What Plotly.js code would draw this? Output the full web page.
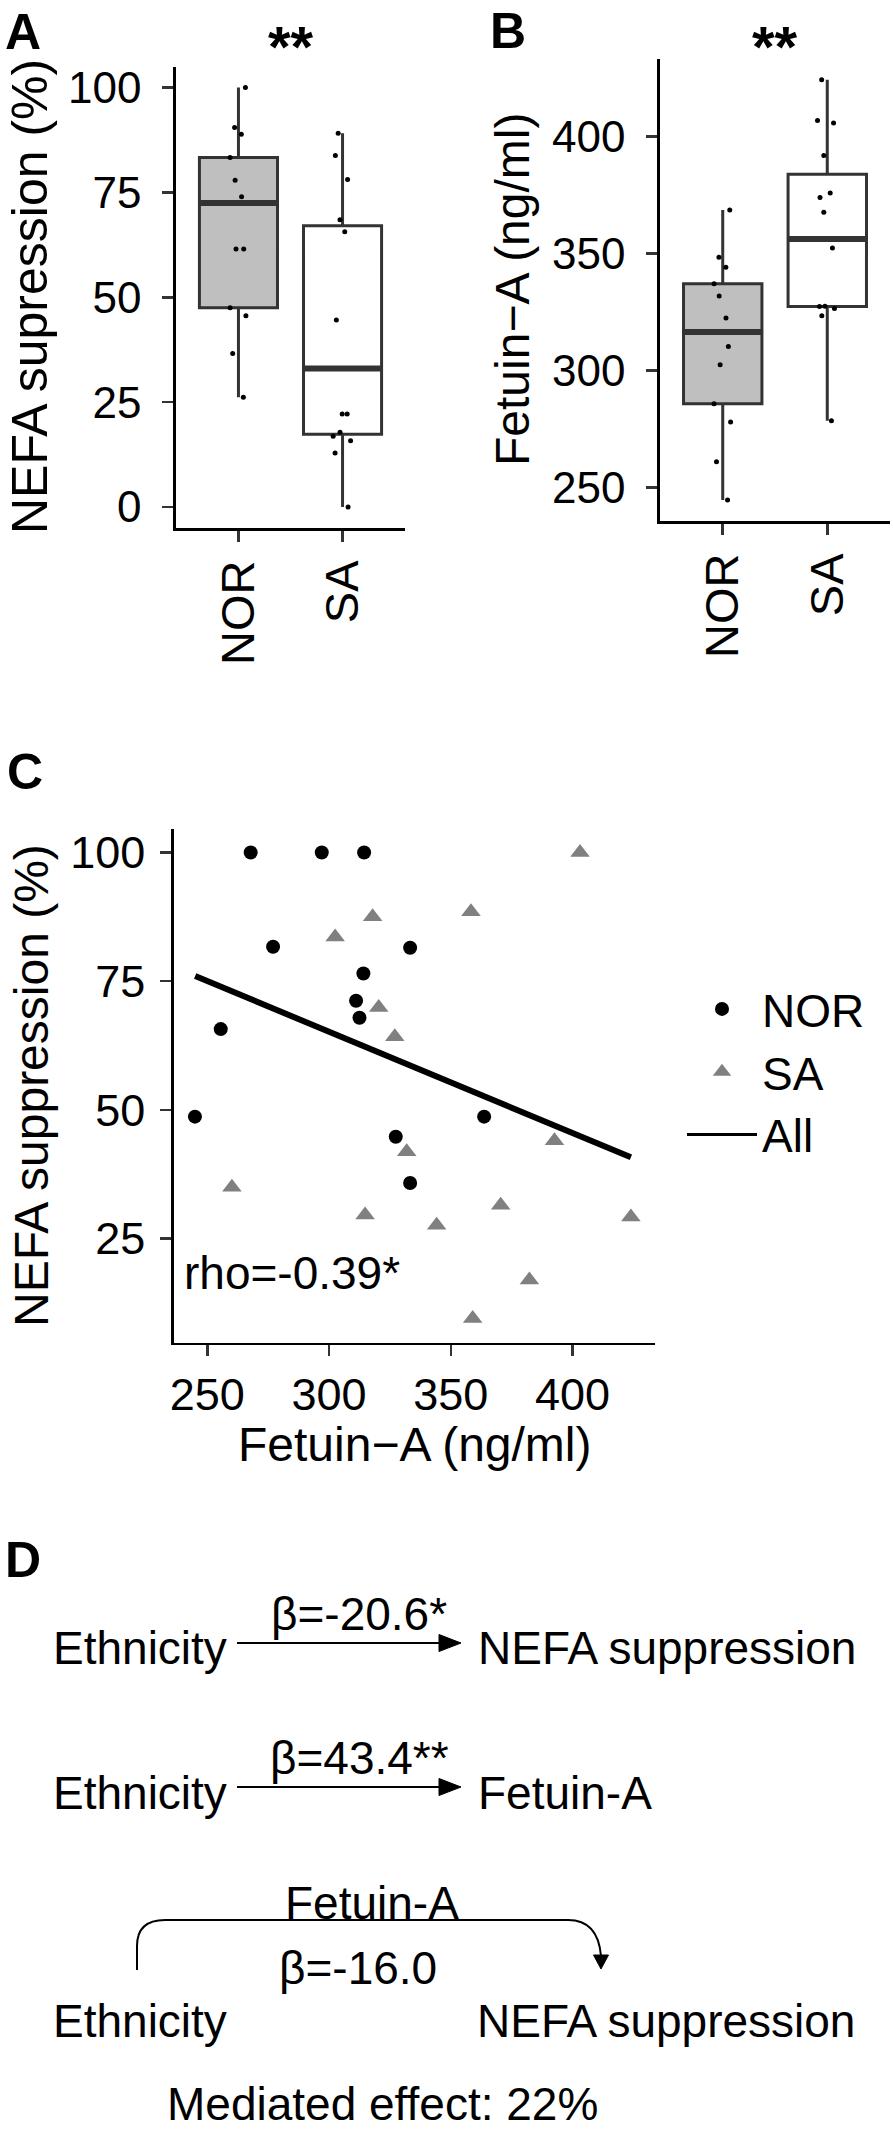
<!DOCTYPE html>
<html><head><meta charset="utf-8">
<script src="https://cdn.plot.ly/plotly-3.0.1.min.js"></script>
<style>body{margin:0;background:#fff}#chart{width:893px;height:2134px}</style>
</head><body><div id="chart"></div>
<script>
// ---------- data ----------
const groups = ['NOR', 'SA'];
// Panel A: NEFA supression (%)
const nefaNOR = [100, 90.5, 88.9, 83.3, 77.9, 74.0, 72.5, 61.5, 61.5, 47.5, 45.6, 36.6, 26.2];
const nefaSA  = [89.1, 83.8, 78.1, 68.5, 65.6, 44.6, 33.0, 33.0, 22.2, 22.2, 17.8, 16.9, 15.8, 12.9, 0];
// Panel B: Fetuin-A (ng/ml)
const fetNOR = [368.7, 348.5, 344.2, 337.1, 331.9, 322.5, 316.5, 310.3, 302.5, 285.8, 278.0, 261.0, 244.7];
const fetSA  = [424.3, 406.9, 405.9, 392.0, 375.9, 374.0, 367.7, 356.3, 356.3, 352.4, 327.5, 327.4, 326.6, 323.4, 278.6];
// Panel C: Fetuin-A vs NEFA suppression
const scNORx = [267.8, 297.0, 314.4, 277.0, 333.3, 314.1, 311.1, 312.5, 255.5, 244.9, 327.4, 333.3, 363.7];
const scNORy = [100, 100, 100, 81.7, 81.5, 76.5, 71.2, 67.9, 65.7, 48.7, 44.8, 35.8, 48.7];
const scSAx  = [403.1, 317.9, 358.3, 302.5, 320.4, 327.0, 392.6, 331.9, 260.1, 370.5, 314.8, 424.0, 344.2, 382.3, 359.0];
const scSAy  = [100, 87.5, 88.5, 83.6, 69.9, 64.2, 44.0, 41.9, 35.0, 31.5, 29.6, 29.2, 27.6, 17.0, 9.5];
const fitX = [245, 424];
const fitY = [76.0, 40.8];
const ticksA = [0, 25, 50, 75, 100];
const ticksB = [250, 300, 350, 400];
const ticksCx = [250, 300, 350, 400];
const ticksCy = [25, 50, 75, 100];

// ---------- helpers ----------
const W = 893, H = 2134;
const fx = p => p / W;
const fy = p => 1 - p / H;
const FONT = 'Liberation Sans, Arial, Helvetica, sans-serif';
const median = arr => { const s = [...arr].sort((a, b) => a - b); const n = s.length; return n % 2 ? s[(n - 1) / 2] : (s[n / 2 - 1] + s[n / 2]) / 2; };
const BOXW = 0.75;

function boxTrace(vals, pos, fill, xa, ya) {
  return {
    type: 'box', y: vals, x0: pos, width: BOXW, xaxis: xa, yaxis: ya,
    boxpoints: 'all', jitter: 0.3, pointpos: 0,
    marker: {color: '#000', size: 5},
    fillcolor: fill, line: {color: '#333333', width: 3},
    whiskerwidth: 0, quartilemethod: 'inclusive', showlegend: false, hoverinfo: 'y'
  };
}

const traces = [
  boxTrace(nefaNOR, 1, '#bfbfbf', 'x', 'y'),
  boxTrace(nefaSA, 2, '#ffffff', 'x', 'y'),
  boxTrace(fetNOR, 1, '#bfbfbf', 'x2', 'y2'),
  boxTrace(fetSA, 2, '#ffffff', 'x2', 'y2'),
  {type: 'scatter', mode: 'markers', x: scNORx, y: scNORy, xaxis: 'x3', yaxis: 'y3', name: 'NOR',
   marker: {symbol: 'circle', size: 14, color: '#000'}},
  {type: 'scatter', mode: 'markers', x: scSAx, y: scSAy, xaxis: 'x3', yaxis: 'y3', name: 'SA',
   marker: {symbol: 'triangle-up', size: 17, color: '#808080'}},
  {type: 'scatter', mode: 'lines', x: fitX, y: fitY, xaxis: 'x3', yaxis: 'y3', showlegend: false,
   line: {color: '#000', width: 6}},
  {type: 'scatter', mode: 'lines', x: [null], y: [null], xaxis: 'x3', yaxis: 'y3', name: 'All',
   line: {color: '#000', width: 3}}
];

const axBase = {
  showline: true, linecolor: '#000', linewidth: 2.7, mirror: false,
  ticks: 'outside', ticklen: 11, tickwidth: 2.5, tickcolor: '#333333',
  showgrid: false, zeroline: false, fixedrange: true,
  tickfont: {family: FONT, size: 44, color: '#000'}
};
const catAxis = (dom, anchor) => Object.assign({}, axBase, {
  domain: dom, anchor: anchor, range: [0.4, 2.6], tickmode: 'array', tickvals: [1, 2], ticktext: groups,
  tickangle: -90, tickfont: {family: FONT, size: 47, color: '#000'}
});

const shapes = [];
// thicker median bars for boxplots
[[nefaNOR, 1, 'x', 'y'], [nefaSA, 2, 'x', 'y'], [fetNOR, 1, 'x2', 'y2'], [fetSA, 2, 'x2', 'y2']].forEach(([v, p, xa, ya]) => {
  const m = median(v);
  shapes.push({type: 'line', xref: xa, yref: ya, x0: p - BOXW / 2, x1: p + BOXW / 2, y0: m, y1: m,
               line: {color: '#333333', width: 6}, layer: 'above'});
});

// Panel D arrows (diagram)
function hArrow(x0, x1, y) {
  const hl = 22, hw = 8.5;
  shapes.push({type: 'line', xref: 'paper', yref: 'paper', x0: fx(x0), x1: fx(x1 - hl + 1), y0: fy(y), y1: fy(y),
               line: {color: '#000', width: 2}});
  shapes.push({type: 'path', xref: 'paper', yref: 'paper', fillcolor: '#000', line: {color: '#000', width: 1},
               path: `M${fx(x1 - hl)},${fy(y - hw)} L${fx(x1)},${fy(y)} L${fx(x1 - hl)},${fy(y + hw)} Z`});
}
hArrow(237, 461, 1643);
hArrow(237, 461, 1787);
// curved arrow
shapes.push({type: 'path', xref: 'paper', yref: 'paper', line: {color: '#000', width: 2},
  path: `M${fx(137)},${fy(1970)} L${fx(137)},${fy(1946)} Q${fx(137)},${fy(1920)} ${fx(165)},${fy(1920)} L${fx(568)},${fy(1920)} Q${fx(598)},${fy(1920)} ${fx(601)},${fy(1956)}`});
shapes.push({type: 'path', xref: 'paper', yref: 'paper', fillcolor: '#000', line: {color: '#000', width: 1},
  path: `M${fx(593.5)},${fy(1955)} L${fx(601)},${fy(1969)} L${fx(608.5)},${fy(1955)} Z`});

const ann = [];
function txt(text, x, y, size, opts) {
  ann.push(Object.assign({text: text, xref: 'paper', yref: 'paper', x: fx(x), y: fy(y), showarrow: false,
    xanchor: 'center', yanchor: 'middle', font: {family: FONT, size: size, color: '#000'}}, opts || {}));
}
// panel letters
txt('<b>A</b>', 3, 32, 50, {xanchor: 'left'});
txt('<b>B</b>', 488, 31, 50, {xanchor: 'left'});
txt('<b>C</b>', 5, 772, 50, {xanchor: 'left'});
txt('<b>D</b>', 3, 1560, 50, {xanchor: 'left'});
// significance stars
txt('<b>**</b>', 290.5, 47, 58);
txt('<b>**</b>', 775, 47, 58);
// axis titles
txt('NEFA supression (%)', 30, 297, 50, {textangle: -90});
txt('Fetuin\u2212A (ng/ml)', 513, 290, 48, {textangle: -90});
txt('NEFA suppression (%)', 31, 1086, 48, {textangle: -90});
txt('Fetuin\u2212A (ng/ml)', 414.5, 1444, 48);
// rho
ann.push({text: 'rho=-0.39*', xref: 'x3', yref: 'paper', x: 239.5, y: fy(1273), showarrow: false,
  xanchor: 'left', yanchor: 'middle', font: {family: FONT, size: 46, color: '#000'}});
// panel D text
const DF = 46;
txt('Ethnicity', 51, 1648, DF, {xanchor: 'left'});
txt('\u03b2=-20.6*', 359, 1614, DF);
txt('NEFA suppression', 476, 1648, DF, {xanchor: 'left'});
txt('Ethnicity', 51, 1793, DF, {xanchor: 'left'});
txt('\u03b2=43.4**', 359, 1758, DF);
txt('Fetuin-A', 476, 1793, DF, {xanchor: 'left'});
txt('Fetuin-A', 372, 1903, DF);
txt('\u03b2=-16.0', 358, 1968, DF);
txt('Ethnicity', 51, 2021, DF, {xanchor: 'left'});
txt('NEFA suppression', 475, 2021, DF, {xanchor: 'left'});
txt('Mediated effect: 22%', 382, 2104, DF);

const layout = {
  width: W, height: H, margin: {l: 0, r: 0, t: 0, b: 0},
  paper_bgcolor: '#fff', plot_bgcolor: 'rgba(0,0,0,0)',
  font: {family: FONT, color: '#000'},
  boxmode: 'overlay',
  xaxis: catAxis([fx(176), fx(405)], 'y'),
  yaxis: Object.assign({}, axBase, {domain: [fy(528), fy(66.6)], anchor: 'x', range: [-5, 105],
    tickmode: 'array', tickvals: ticksA, ticklabelstandoff: 12}),
  xaxis2: catAxis([fx(660), fx(890)], 'y2'),
  yaxis2: Object.assign({}, axBase, {domain: [fy(521), fy(58.8)], anchor: 'x2', range: [235.7, 433.3],
    tickmode: 'array', tickvals: ticksB, ticklabelstandoff: 12}),
  xaxis3: Object.assign({}, axBase, {domain: [fx(174), fx(655)], anchor: 'y3', range: [236.3, 433.9],
    tickmode: 'array', tickvals: ticksCx, tickfont: {family: FONT, size: 45, color: '#000'}}),
  yaxis3: Object.assign({}, axBase, {domain: [fy(1342.7), fy(829.3)], anchor: 'x3', range: [4.8, 104.5],
    tickmode: 'array', tickvals: ticksCy, tickfont: {family: FONT, size: 45, color: '#000'}, ticklabelstandoff: 6}),
  showlegend: true,
  legend: {x: fx(682), y: fy(1072), xanchor: 'left', yanchor: 'middle', bgcolor: 'rgba(0,0,0,0)',
    font: {family: FONT, size: 46, color: '#000'}, itemwidth: 70, tracegroupgap: 0},
  shapes: shapes,
  annotations: ann
};

Plotly.newPlot('chart', traces, layout, {staticPlot: true, displayModeBar: false});
</script>
</body></html>
